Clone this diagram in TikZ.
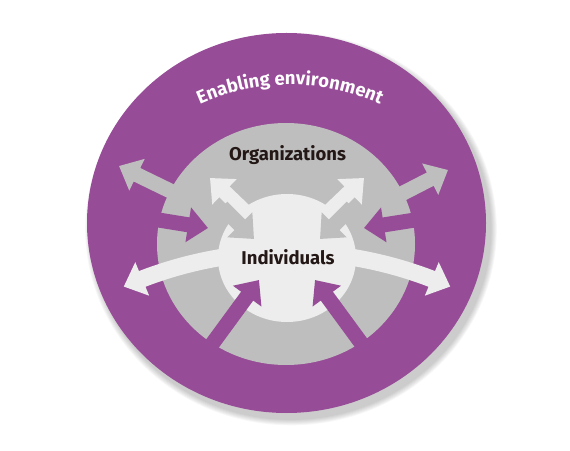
\documentclass[tikz,border=0pt]{standalone}
\usepackage{fontspec}
\setmainfont{Fira Sans}
\usetikzlibrary{arrows.meta,bending,decorations.text}
\definecolor{envpurple}{RGB}{151,76,151}
\definecolor{orggray}{RGB}{190,190,190}
\definecolor{indlight}{RGB}{237,237,237}
\definecolor{labelink}{RGB}{35,24,21}

\begin{document}
\begin{tikzpicture}[x=1pt,y=1pt,
        flow/.style={line width=15pt,-{Triangle[width=34pt,length=20pt]}},
        ringtext/.style={font=\bfseries\fontsize{18.5}{22}\selectfont,text=labelink}]
        \useasboundingbox (0,0) rectangle (570,450);
        \foreach \s in {1,...,7}
            \fill[black,opacity=0.03] (291,221) ellipse ({199.5+\s*0.9} and {190+\s*0.9});
        \fill[envpurple] (286.5,227) ellipse (199.5 and 190);
        \fill[orggray] (286,206) ellipse (129 and 121);
        \fill[indlight] (287,192) ellipse (69 and 64);
        \coordinate (goutLa) at (193,248);
        \coordinate (goutLb) at (119,284);
        \coordinate (goutRa) at (378,244);
        \coordinate (goutRb) at (448,280);
        \coordinate (pinLa) at (140,233);
        \coordinate (pinLb) at (208,222);
        \coordinate (pinRa) at (434,233);
        \coordinate (pinRb) at (364,222);
        \coordinate (pbotLa) at (196,84);
        \coordinate (pbotLb) at (259,170);
        \coordinate (pbotRa) at (378,84);
        \coordinate (pbotRb) at (315,170);
        \coordinate (loutLa) at (258,226);
        \coordinate (loutLb) at (210,272);
        \coordinate (loutRa) at (316,226);
        \coordinate (loutRb) at (364,272);
        \coordinate (ginLa) at (222,243);
        \coordinate (ginLb) at (254,211);
        \coordinate (ginRa) at (352,243);
        \coordinate (ginRb) at (320,211);
        \coordinate (bandcentre) at (287,-205);
        \draw[flow,orggray] (goutLa) -- (goutLb);
        \draw[flow,orggray] (goutRa) -- (goutRb);
        \draw[flow,envpurple] (pinLa) -- (pinLb);
        \draw[flow,envpurple] (pinRa) -- (pinRb);
        \draw[flow,envpurple] (pbotLa) -- (pbotLb);
        \draw[flow,envpurple] (pbotRa) -- (pbotRb);
        \draw[flow,indlight] (loutLa) -- (loutLb);
        \draw[flow,indlight] (loutRa) -- (loutRb);
        \draw[flow,orggray] (ginLa) -- (ginLb);
        \draw[flow,orggray] (ginRa) -- (ginRb);
        \draw[indlight,line width=17pt,{Triangle[width=35pt,length=20pt]}-{Triangle[width=35pt,length=20pt]}]
            ([shift={(113.9:403)}]bandcentre) arc[start angle=113.9,end angle=66.1,radius=403];
        \node[ringtext] (orgs) at (287.5,295) {Organizations};
        \node[ringtext] (indiv) at (288,193) {Individuals};
        \path[decorate,decoration={text along path,text align=center,text color=white,
            text={|\bfseries\fontsize{18.5}{22}\selectfont|Enabling environment}}]
            (290,145) ++(150:220) arc[start angle=150,end angle=30,radius=220];
    \end{tikzpicture}
\end{document}
